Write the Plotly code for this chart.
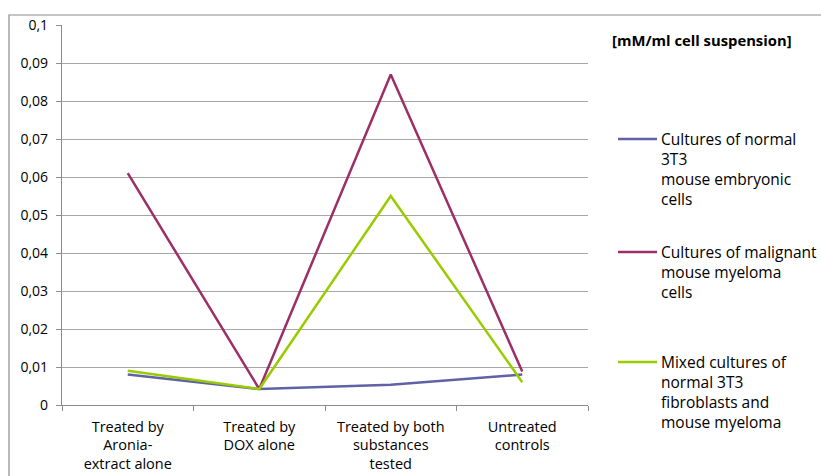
import plotly.graph_objects as go

# Treatment groups on the x axis
categories = ["Treated by<br>Aronia-<br>extract alone",
              "Treated by<br>DOX alone",
              "Treated by both<br>substances<br>tested",
              "Untreated<br>controls"]

# Measured concentration [mM/ml cell suspension]
normal_3t3 = [0.008, 0.0042, 0.0053, 0.008]
myeloma = [0.061, 0.0042, 0.087, 0.0088]
mixed = [0.009, 0.0042, 0.055, 0.006]

series_names = [
    ["Cultures of normal", "3T3", "mouse embryonic", "cells"],
    ["Cultures of malignant", "mouse myeloma", "cells"],
    ["Mixed cultures of", "normal 3T3", "fibroblasts and", "mouse myeloma"],
]
series_values = [normal_3t3, myeloma, mixed]
series_colors = ["#5f62a4", "#9c2f66", "#99cc00"]

y_ticks = [0, 0.01, 0.02, 0.03, 0.04, 0.05, 0.06, 0.07, 0.08, 0.09, 0.1]
y_tick_labels = ["0", "0,01", "0,02", "0,03", "0,04", "0,05",
                 "0,06", "0,07", "0,08", "0,09", "0,1"]

unit_label = "[mM/ml cell suspension]"

FONT = "'Open Sans', sans-serif"
W, H = 821, 476
L, R, T, B = 62, 588, 25, 405  # plot area in pixels


def px_x(px):
    return (px - L) / (R - L)


def px_y(py):
    return (B - py) / (B - T)


fig = go.Figure()
for name, vals, col in zip(series_names, series_values, series_colors):
    fig.add_trace(go.Scatter(
        x=categories, y=vals, mode="lines", name=" ".join(name),
        line=dict(color=col, width=2.5), showlegend=False,
    ))

shapes = [
    # outer chart border
    dict(type="rect", xref="paper", yref="paper",
         x0=px_x(9), x1=px_x(830), y0=px_y(485), y1=px_y(15),
         line=dict(color="#8c8c8c", width=1.2), fillcolor="rgba(0,0,0,0)",
         layer="below"),
]
annotations = [
    dict(text="<b>" + unit_label + "</b>", xref="paper", yref="paper",
         x=px_x(610), y=px_y(40), xanchor="left", yanchor="middle",
         showarrow=False, font=dict(family=FONT, size=14.8, color="#000")),
]

# Hand-placed legend: short line sample plus wrapped label
legend_top = [139, 252, 362]
line_gap = 20
for top, lines, col in zip(legend_top, series_names, series_colors):
    shapes.append(dict(type="line", xref="paper", yref="paper",
                       x0=px_x(618), x1=px_x(657), y0=px_y(top), y1=px_y(top),
                       line=dict(color=col, width=2.5)))
    for i, txt in enumerate(lines):
        annotations.append(dict(
            text=txt, xref="paper", yref="paper",
            x=px_x(659), y=px_y(top + i * line_gap),
            xanchor="left", yanchor="middle", showarrow=False,
            font=dict(family=FONT, size=15.5, color="#000")))

fig.update_layout(
    width=W, height=H,
    margin=dict(l=L, r=W - R, t=T, b=H - B),
    paper_bgcolor="white", plot_bgcolor="white",
    font=dict(family=FONT, size=13, color="#000"),
    shapes=shapes, annotations=annotations,
    xaxis=dict(
        type="category", tickson="boundaries", ticks="outside", ticklen=5,
        tickcolor="#8c8c8c", showline=True, linecolor="#8c8c8c", linewidth=1.2,
        showgrid=False, tickfont=dict(family=FONT, size=14.5),
        ticklabelstandoff=8, automargin=False,
        range=[-0.5, 3.5], fixedrange=True,
    ),
    yaxis=dict(
        range=[0, 0.1], tickvals=y_ticks, ticktext=y_tick_labels,
        ticks="outside", ticklen=5, tickcolor="#8c8c8c",
        showline=True, linecolor="#8c8c8c", linewidth=1.2,
        showgrid=True, gridcolor="#a6a6a6", gridwidth=1.3,
        zeroline=False, tickfont=dict(family=FONT, size=14),
        ticklabelstandoff=5, automargin=False,
    ),
)

fig.write_html("out.html")
